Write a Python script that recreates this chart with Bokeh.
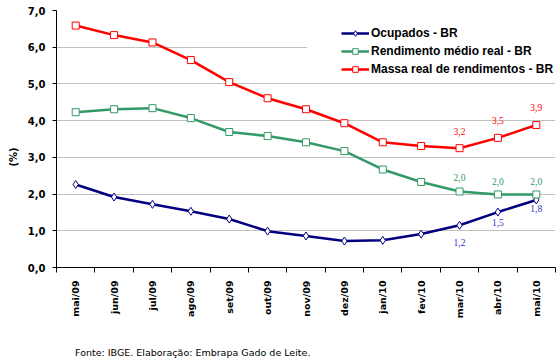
import math
from bokeh.plotting import figure
from bokeh.layouts import column
from bokeh.models import (FixedTicker, Legend, LegendItem, LabelSet, Div,
                          ColumnDataSource, BoxAnnotation, Range1d, Title)
from bokeh.embed import file_html
from bokeh.resources import INLINE

months = ["mai/09", "jun/09", "jul/09", "ago/09", "set/09", "out/09", "nov/09",
          "dez/09", "jan/10", "fev/10", "mar/10", "abr/10", "mai/10"]
ocupados = [2.26, 1.92, 1.72, 1.53, 1.32, 0.99, 0.86, 0.72, 0.74, 0.91, 1.15, 1.51, 1.84]
rendimento = [4.23, 4.31, 4.34, 4.07, 3.69, 3.58, 3.41, 3.17, 2.67, 2.33, 2.07, 1.99, 1.99]
massa = [6.59, 6.33, 6.13, 5.65, 5.05, 4.61, 4.31, 3.93, 3.41, 3.31, 3.25, 3.53, 3.88]
y_ticks = [0, 1, 2, 3, 4, 5, 6, 7]
y_tick_labels = ["0,0", "1,0", "2,0", "3,0", "4,0", "5,0", "6,0", "7,0"]
labelled = [10, 11, 12]  # indices with data labels
ocup_labels = ["1,2", "1,5", "1,8"]
rend_labels = ["2,0", "2,0", "2,0"]
massa_labels = ["3,2", "3,5", "3,9"]
source_text = "Fonte: IBGE. Elaboração: Embrapa Gado de Leite."

NAVY = "#000080"
GREEN = "#339966"
RED = "#FF0000"

x = list(range(len(months)))

p = figure(width=558, height=335, output_backend="svg", toolbar_location=None,
           x_range=Range1d(-0.5, len(months) - 0.5), y_range=Range1d(0, 7),
           min_border_left=55, min_border_right=3, min_border_top=10,
           min_border_bottom=68)
p.outline_line_color = None
p.background_fill_color = "white"
p.border_fill_color = "white"

# axes
p.xaxis.ticker = FixedTicker(ticks=x, minor_ticks=[i - 0.5 for i in range(len(months) + 1)])
p.xaxis.major_label_overrides = {i: m for i, m in enumerate(months)}
p.xaxis.major_label_orientation = math.pi / 2
p.xaxis.major_tick_out = 0
p.xaxis.major_tick_in = 0
p.xaxis.minor_tick_out = 5
p.xaxis.minor_tick_in = 0
p.xaxis.minor_tick_line_color = "black"
p.xaxis.axis_line_color = "black"
p.xaxis.major_label_text_font = "DejaVu Sans"
p.xaxis.major_label_text_font_style = "bold"
p.xaxis.major_label_text_font_size = "9.5px"
p.xaxis.major_label_text_color = "black"
p.xaxis.major_label_standoff = 8

p.yaxis.ticker = FixedTicker(ticks=y_ticks, minor_ticks=[])
p.yaxis.major_label_overrides = {t: l for t, l in zip(y_ticks, y_tick_labels)}
p.yaxis.major_tick_out = 4
p.yaxis.major_tick_in = 0
p.yaxis.axis_line_color = "black"
p.yaxis.major_label_text_font = "DejaVu Sans"
p.yaxis.major_label_text_font_style = "bold"
p.yaxis.major_label_text_font_size = "10px"
p.yaxis.major_label_text_color = "black"
p.yaxis.major_label_standoff = 7

p.xgrid.visible = False
p.ygrid.ticker = FixedTicker(ticks=y_ticks)
p.ygrid.grid_line_color = "#C0C0C0"
p.ygrid.grid_line_width = 1

# white legend box covering the grid
p.add_layout(BoxAnnotation(left=6.03, right=12.5, top=6.88, bottom=5.25,
                           fill_color="white", fill_alpha=1, line_color=None,
                           level="underlay"))

series = [("Ocupados - BR", ocupados, NAVY, "diamond", 8),
          ("Rendimento médio real - BR", rendimento, GREEN, "square", 7),
          ("Massa real de rendimentos - BR", massa, RED, "square", 7)]
items = []
for name, vals, col, mk, sz in series:
    src = ColumnDataSource(dict(x=x, y=vals))
    ln = p.line("x", "y", source=src, line_color=col, line_width=2.5)
    sc = p.scatter("x", "y", source=src, marker=mk, size=sz, fill_color="white",
                   line_color=col, line_width=1)
    items.append(LegendItem(label=name, renderers=[ln, sc]))

legend = Legend(items=items, location=(285, 191), background_fill_alpha=0,
                border_line_color=None, padding=0, margin=0, spacing=4,
                glyph_width=28, glyph_height=14, label_height=14,
                label_standoff=2, label_text_font="Liberation Sans",
                label_text_font_style="bold", label_text_font_size="12px",
                label_text_color="black")
p.add_layout(legend)

def add_labels(vals, texts, col, offsets):
    src = ColumnDataSource(dict(x=[x[i] for i in labelled],
                                y=[vals[i] for i in labelled], t=texts,
                                dy=offsets))
    p.add_layout(LabelSet(x="x", y="y", text="t", source=src, y_offset="dy",
                          text_align="center", text_baseline="middle",
                          text_color=col, text_font="DejaVu Sans",
                          text_font_size="9.5px"))

add_labels(massa, massa_labels, RED, [17, 17, 18])
add_labels(rendimento, rend_labels, GREEN, [14, 13, 13])
add_labels(ocupados, ocup_labels, "#3333CC", [-17, -10, -9])

p.add_layout(Title(text="(%)", align="left", offset=101, standoff=11,
                   text_font="DejaVu Sans", text_font_style="bold",
                   text_font_size="10px", text_color="black"), "left")

footer = Div(text=source_text, width=400, height=14, margin=(11, 0, 0, 75),
             styles={"font-family": "DejaVu Sans", "font-size": "9.5px",
                     "color": "black", "line-height": "14px"})

page = column(p, footer, spacing=0)

open("out.html", "w").write(file_html(page, INLINE))
